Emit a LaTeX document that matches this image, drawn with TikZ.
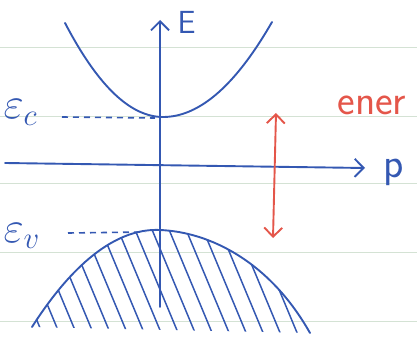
\RequirePackage{fix-cm}
\documentclass[tikz,border=0pt]{standalone}
\usepackage{amsmath,amssymb}
\usetikzlibrary{arrows.meta,positioning,calc}
\definecolor{ink}{RGB}{52,88,178}
\definecolor{redink}{RGB}{228,86,74}
\definecolor{ruling}{RGB}{212,226,212}
\tikzset{
  pen/.style={color=ink,line width=1.9pt,line cap=round},
  barb/.style={-{Straight Barb[length=9pt,width=18pt]}},
  dbarb/.style={{Straight Barb[length=9pt,width=18pt]}-{Straight Barb[length=9pt,width=18pt]}},
  level/.style={pen,line width=1.6pt,line cap=butt,dash pattern=on 6pt off 5pt},
  hatch/.style={color=ink,line width=1.5pt},
  big/.style={font=\fontsize{42}{46}\selectfont\sffamily},
  sym/.style={font=\fontsize{44}{48}\selectfont},
}
\begin{document}
\begin{tikzpicture}[x=1pt,y=-1pt]
  \useasboundingbox (0,0) rectangle (417,339);
  % ruled paper
  \foreach \y in {47,116,183,252,321}
    \draw[ruling,line width=0.8pt] (0,\y) -- (417,\y);

  % axes
  \coordinate (Ebot) at (160,307);
  \coordinate (Etop) at (160,20);
  \coordinate (pleft) at (5,163);
  \coordinate (pright) at (365,168);
  \draw[pen,barb] (Ebot) -- (Etop);
  \node[ink,anchor=base west,font=\fontsize{32}{36}\selectfont\sffamily] (E) at (174,34) {E};
  \draw[pen,barb] (pleft) -- (pright);
  \node[ink,anchor=base west,big] (p) at (380,178) {p};

  % conduction band
  \draw[pen] plot[domain=-98:0,samples=40] ({163+\x},{117-0.0098*\x*\x});
  \draw[pen] plot[domain=0:109,samples=40] ({163+\x},{117-0.0080*\x*\x});
  \node[ink,anchor=base west,sym] (Ec) at (0,119) {$\varepsilon_c$};
  \draw[level] (62,117) -- (155,118);

  % valence band
  \coordinate (Vl) at (32,327);
  \coordinate (Vtop) at (160,230);
  \coordinate (Vr) at (310,333);
  \begin{scope}
    \clip (Vl) .. controls (76,258) and (120,228) .. (Vtop)
      .. controls (210,232) and (270,262) .. (Vr) -- cycle;
    \foreach \x in {-90,-73,...,330}
      \draw[hatch] (\x,220) -- ++(48,115);
  \end{scope}
  \draw[pen] (Vl) .. controls (76,258) and (120,228) .. (Vtop)
    .. controls (210,232) and (270,262) .. (Vr);
  \node[ink,anchor=base west,sym] (Ev) at (0,242) {$\varepsilon_v$};
  \draw[level] (68,233) -- (145,232);

  % gap
  \coordinate (gtop) at (276,113);
  \coordinate (gbot) at (273,238);
  \draw[redink,line width=1.9pt,line cap=round,dbarb] (gbot) -- (gtop);
  \node[redink,anchor=base west,big] (ener) at (334,115) {ener};
\end{tikzpicture}
\end{document}
